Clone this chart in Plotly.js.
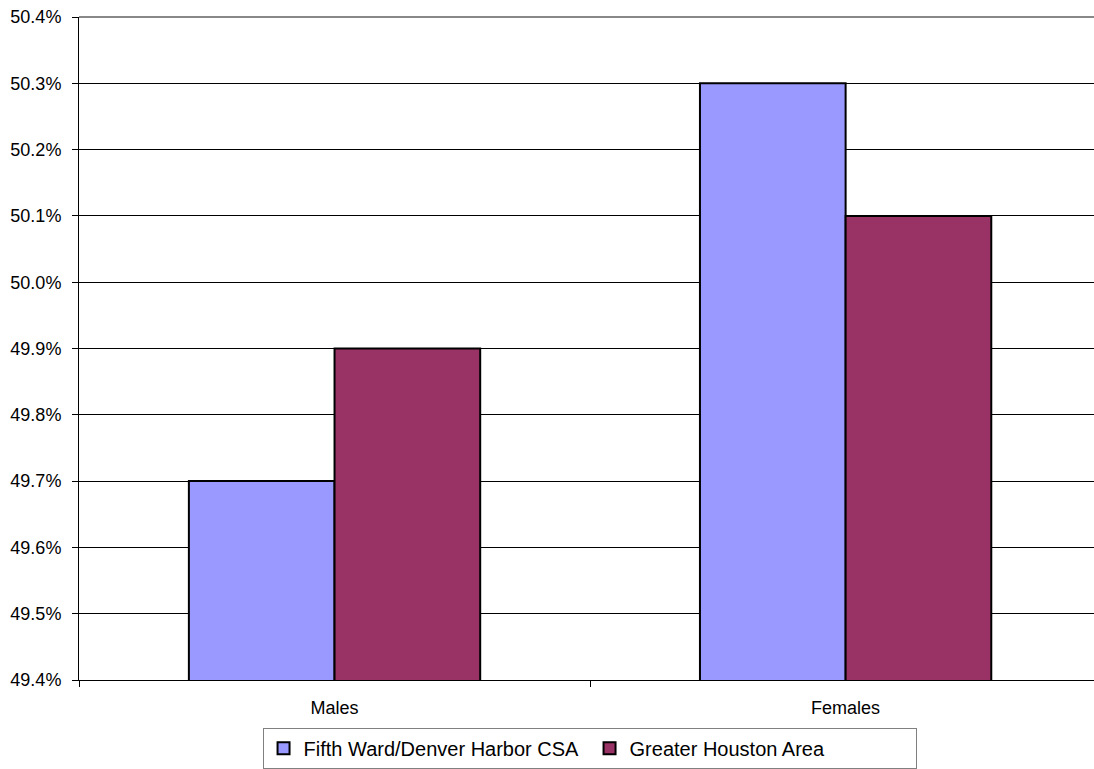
<!DOCTYPE html>
<html>
<head>
<meta charset="utf-8">
<script src="https://cdn.plot.ly/plotly-3.0.1.min.js"></script>
<style>html,body{margin:0;padding:0;background:#fff;overflow:hidden}</style>
</head>
<body>
<div id="chart" style="width:1094px;height:769px"></div>
<script>
const categories = ["Males", "Females"];
const fifthWard = [49.7, 50.3];
const greaterHouston = [49.9, 50.1];
const seriesNames = ["Fifth Ward/Denver Harbor CSA", "Greater Houston Area"];
const yTicks = [49.4, 49.5, 49.6, 49.7, 49.8, 49.9, 50.0, 50.1, 50.2, 50.3, 50.4];

const traces = [
  {type: 'bar', name: seriesNames[0], x: categories, y: fifthWard,
   marker: {color: '#9999FF', line: {color: '#000', width: 2}}, hoverinfo: 'none'},
  {type: 'bar', name: seriesNames[1], x: categories, y: greaterHouston,
   marker: {color: '#993366', line: {color: '#000', width: 2}}, hoverinfo: 'none'}
];

const layout = {
  width: 1094, height: 769,
  margin: {l: 79, r: 0, t: 17, b: 87},
  paper_bgcolor: '#fff', plot_bgcolor: '#fff',
  font: {family: 'Arial, Liberation Sans, sans-serif', color: '#000'},
  barmode: 'group', bargap: 0.43, bargroupgap: 0,
  showlegend: true,
  legend: {orientation: 'h', x: 0.503, xanchor: 'center', y: -0.072, yanchor: 'top',
           font: {size: 20, color: '#000'}, bordercolor: '#808080', borderwidth: 1,
           itemwidth: 30, entrywidth: 281, traceorder: 'normal'},
  xaxis: {type: 'category', range: [-0.5, 1.486], showline: true, linecolor: '#000', linewidth: 1,
          ticks: 'outside', tickson: 'boundaries', ticklen: 6, tickcolor: '#000',
          ticklabelstandoff: 11, automargin: false,
          tickfont: {size: 18}, showgrid: false, zeroline: false, fixedrange: true},
  yaxis: {range: [49.4, 50.4], tickvals: yTicks, ticktext: yTicks.map(v => v.toFixed(1) + '%'),
          showline: true, linecolor: '#000', linewidth: 1, ticks: 'outside', ticklen: 6,
          ticklabelstandoff: 7, automargin: false,
          tickcolor: '#000', tickfont: {size: 18}, showgrid: true, gridcolor: '#000', gridwidth: 1,
          zeroline: false, fixedrange: true},
  shapes: [{type: 'line', xref: 'paper', yref: 'paper', x0: 0, x1: 1, y0: 1, y1: 1,
            line: {color: '#888', width: 2}}]
};

Plotly.newPlot('chart', traces, layout, {displayModeBar: false, staticPlot: true});
</script>
</body>
</html>
